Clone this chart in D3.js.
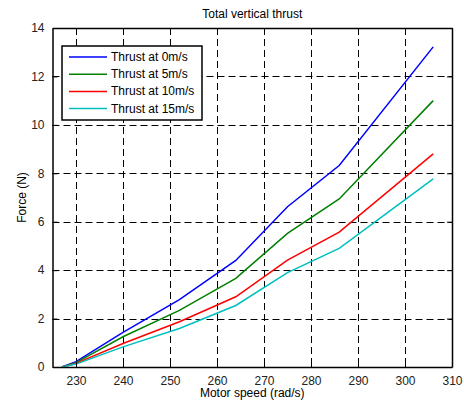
<!DOCTYPE html>
<html>
<head>
<meta charset="utf-8">
<script src="https://cdn.jsdelivr.net/npm/d3@7"></script>
<style>
  body { margin: 0; background: #fff; }
  text { font-family: "Liberation Sans", Arial, sans-serif; }
</style>
</head>
<body>
<div id="chart"></div>
<script>
// Data
const speeds = [227, 230, 240, 252, 264, 275, 286, 306];
const thrust0 = [0, 0.22, 1.43, 2.78, 4.40, 6.62, 8.32, 13.22];
const thrust5 = [0, 0.18, 1.25, 2.34, 3.66, 5.52, 6.94, 11.0];
const thrust10 = [0, 0.15, 0.97, 1.87, 2.90, 4.41, 5.57, 8.8];
const thrust15 = [0, 0.12, 0.83, 1.59, 2.54, 3.90, 4.90, 7.77];
const seriesNames = ["Thrust at 0m/s", "Thrust at 5m/s", "Thrust at 10m/s", "Thrust at 15m/s"];
const seriesColors = ["#0000ff", "#008000", "#ff0000", "#00bfbf"];
const xTicks = [230, 240, 250, 260, 270, 280, 290, 300, 310];
const yTicks = [0, 2, 4, 6, 8, 10, 12, 14];

const width = 464;
const height = 403;
const margin = { top: 28, right: 12, bottom: 36, left: 52.5 };

const svg = d3.select("#chart")
  .append("svg")
  .attr("width", width)
  .attr("height", height);

const x = d3.scaleLinear()
  .domain([225, 310])
  .range([margin.left, width - margin.right]);

const y = d3.scaleLinear()
  .domain([0, 14])
  .range([height - margin.bottom, margin.top]);

// grid
const grid = svg.append("g").attr("stroke", "#000").attr("stroke-width", 1)
  .attr("stroke-dasharray", "7,4");
grid.selectAll(".gx")
  .data(xTicks.filter(d => d < 310))
  .enter().append("line")
  .attr("x1", d => Math.round(x(d)) + 0.5).attr("x2", d => Math.round(x(d)) + 0.5)
  .attr("y1", y(14)).attr("y2", y(0));
grid.selectAll(".gy")
  .data(yTicks.filter(d => d > 0 && d < 14))
  .enter().append("line")
  .attr("y1", d => Math.round(y(d)) + 0.5).attr("y2", d => Math.round(y(d)) + 0.5)
  .attr("x1", x(225)).attr("x2", x(310));

// lines
const allSeries = [thrust0, thrust5, thrust10, thrust15];
const line = d3.line()
  .x((d, i) => x(speeds[i]))
  .y(d => y(d));

svg.selectAll(".series")
  .data(allSeries)
  .enter().append("path")
  .attr("fill", "none")
  .attr("stroke", (d, i) => seriesColors[i])
  .attr("stroke-width", 1.5)
  .attr("d", line);

// axes (ticks inward, box)
svg.append("g")
  .attr("transform", `translate(0, ${y(0)})`)
  .call(d3.axisBottom(x).tickValues(xTicks).tickSizeInner(-5).tickSizeOuter(0).tickPadding(9));
svg.append("g")
  .attr("transform", `translate(${x(225)}, 0)`)
  .call(d3.axisLeft(y).tickValues(yTicks).tickSizeInner(-5).tickSizeOuter(0).tickPadding(8));
svg.append("g")
  .attr("transform", `translate(0, ${y(14)})`)
  .call(d3.axisTop(x).tickValues(xTicks).tickSizeInner(-5).tickSizeOuter(0).tickFormat(""));
svg.append("g")
  .attr("transform", `translate(${x(310)}, 0)`)
  .call(d3.axisRight(y).tickValues(yTicks).tickSizeInner(-5).tickSizeOuter(0).tickFormat(""));

svg.selectAll(".domain").attr("stroke", "#000").attr("stroke-width", 1.5);
svg.selectAll(".tick text").attr("font-size", 12).attr("fill", "#222");

// labels
svg.append("text")
  .attr("x", (x(225) + x(310)) / 2).attr("y", 18)
  .attr("text-anchor", "middle").attr("font-size", 12)
  .text("Total vertical thrust");
svg.append("text")
  .attr("x", (x(225) + x(310)) / 2).attr("y", 397)
  .attr("text-anchor", "middle").attr("font-size", 12)
  .text("Motor speed (rad/s)");
svg.append("text")
  .attr("transform", `translate(26, ${(y(0) + y(14)) / 2}) rotate(-90)`)
  .attr("text-anchor", "middle").attr("font-size", 12)
  .text("Force (N)");

// legend
const legend = svg.append("g");
legend.append("rect")
  .attr("x", 62).attr("y", 46).attr("width", 140).attr("height", 74)
  .attr("fill", "#fff").attr("stroke", "#000").attr("stroke-width", 1.5);
seriesNames.forEach((name, i) => {
  const ly = 57 + i * 17.2;
  legend.append("line")
    .attr("x1", 69).attr("x2", 107).attr("y1", ly).attr("y2", ly)
    .attr("stroke", seriesColors[i]).attr("stroke-width", 1.5);
  legend.append("text")
    .attr("x", 111).attr("y", ly + 4).attr("font-size", 12)
    .text(name);
});
</script>
</body>
</html>
